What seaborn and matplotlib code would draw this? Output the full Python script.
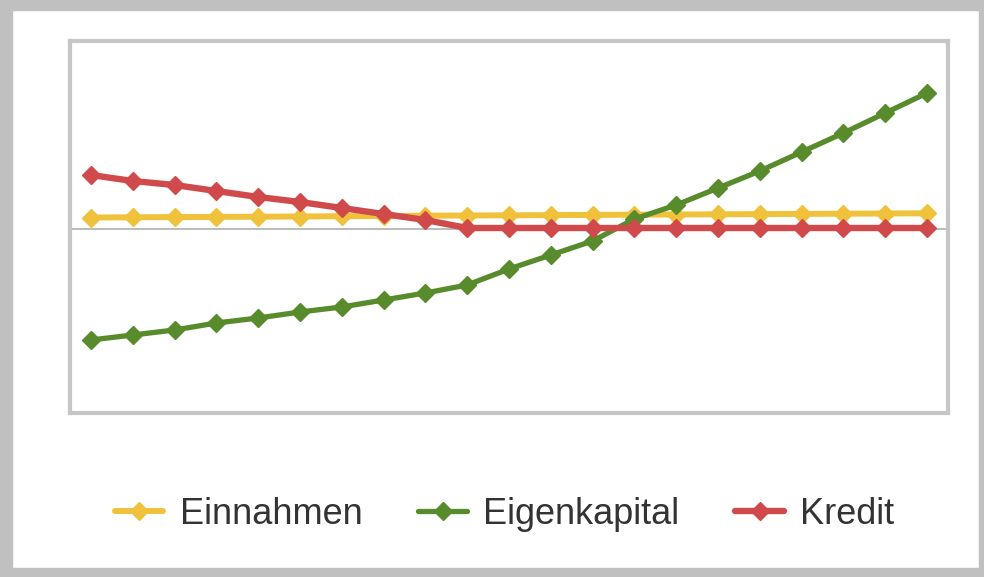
import matplotlib
matplotlib.use("Agg")
import matplotlib.pyplot as plt
from matplotlib.patches import Rectangle
import seaborn as sns
import pandas as pd
import numpy as np

# ---- data (arbitrary units, 0 = baseline) ----
periods = list(range(1, 22))
einnahmen = [11.5, 11.7, 11.9, 12.1, 12.3, 12.5, 12.8, 13.0, 13.3, 13.5, 13.7,
             13.9, 14.1, 14.3, 14.5, 14.7, 14.9, 15.1, 15.3, 15.5, 15.7]
eigenkapital = [-111, -106, -101, -94, -89, -83, -78, -71, -64, -56, -40,
                -26, -12, 10, 24, 41, 58, 77, 96, 116, 136]
kredit = [54, 48, 44, 38, 32, 27, 21, 15, 9, 1, 1,
          1, 1, 1, 1, 1, 1, 1, 1, 1, 1]
series_names = ["Einnahmen", "Eigenkapital", "Kredit"]
series_colors = ["#F0C23C", "#588B2B", "#D04A4B"]
series_lw = [4.3, 3.8, 4.6]

df = pd.DataFrame({
    "Periode": periods * 3,
    "Wert": einnahmen + eigenkapital + kredit,
    "Reihe": sum([[n] * len(periods) for n in series_names], []),
})

sns.set_theme(style="white")
plt.rcParams["font.family"] = ["Liberation Sans", "DejaVu Sans"]

W, H = 984, 577
fig = plt.figure(figsize=(W / 100, H / 100), dpi=100)

# axes placement (pixel-derived)
left_px, right_px, top_px, bot_px = 70, 948, 40.5, 413
ax = fig.add_axes([left_px / W, 1 - bot_px / H, (right_px - left_px) / W, (bot_px - top_px) / H])

ax.axhline(0, color="#a8a8a8", lw=1.1, zorder=1)

for name, col, lw in zip(series_names, series_colors, series_lw):
    sub = df[df["Reihe"] == name]
    sns.lineplot(data=sub, x="Periode", y="Wert", ax=ax, color=col, lw=lw,
                 marker="D", markersize=9, markeredgecolor=col, markeredgewidth=1,
                 label=name, zorder=3, legend=False)

ax.set_xlim(0.5, 21.5)
ax.set_ylim(-184, 188.5)
ax.set_xticks([])
ax.set_yticks([])
ax.set_xlabel("")
ax.set_ylabel("")
for s in ax.spines.values():
    s.set_visible(True)
    s.set_color("#c6c6c6")
    s.set_linewidth(3)

hs = ax.get_lines()[1:]
leg = fig.legend(hs, series_names, loc="center", bbox_to_anchor=(0.5127, 1 - 514 / H),
                 ncol=3, frameon=False, fontsize=26, handlelength=1.35,
                 handletextpad=0.45, columnspacing=1.55, labelcolor="#333333")

# outer grey border
grey = "#c0c0c0"
fig.patches.extend([
    Rectangle((0, 1 - 10 / H), 1, 10 / H, transform=fig.transFigure, color=grey, zorder=0),
    Rectangle((0, 0), 1, 9 / H, transform=fig.transFigure, color=grey, zorder=0),
    Rectangle((0, 0), 12 / W, 1, transform=fig.transFigure, color=grey, zorder=0),
    Rectangle((1 - 5 / W, 0), 5 / W, 1, transform=fig.transFigure, color=grey, zorder=0),
])

fig.savefig("out.png", dpi=100)
